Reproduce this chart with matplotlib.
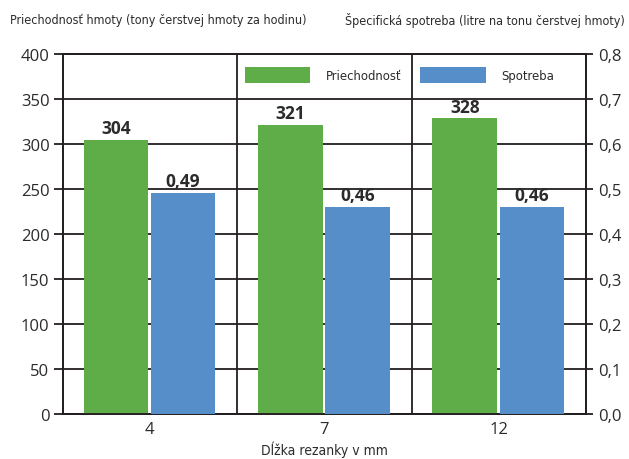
import matplotlib
matplotlib.use("Agg")
import matplotlib.pyplot as plt
from matplotlib import font_manager
import numpy as np

# data
categories = ["4", "7", "12"]
throughput = [304, 321, 328]          # tony čerstvej hmoty za hodinu
consumption = [0.49, 0.46, 0.46]      # litre na tonu čerstvej hmoty
left_ticks = [0, 50, 100, 150, 200, 250, 300, 350, 400]
right_ticks = [0.0, 0.1, 0.2, 0.3, 0.4, 0.5, 0.6, 0.7, 0.8]

GREEN = "#5fad48"
BLUE = "#558ec8"
INK = "#231f20"
TEXT = "#2b2b2b"

# condensed face for the small captions, if one is around
cond = font_manager.FontProperties(family="DejaVu Sans", stretch="condensed")
if "Condensed" in font_manager.findfont(cond, fallback_to_default=True):
    narrow = dict(family="DejaVu Sans", stretch="condensed")
else:
    narrow = dict(family="Liberation Sans")

plt.rcParams["font.family"] = ["Open Sans", "DejaVu Sans"]
plt.rcParams["text.color"] = TEXT

fig = plt.figure(figsize=(6.29, 4.60), dpi=100)
ax = fig.add_axes([0.0997, 0.0985, 0.8318, 0.7826])
ax2 = ax.twinx()

x = np.arange(len(categories))
w = 0.37

b1 = ax.bar(x - 0.195, throughput, width=w, color=GREEN, zorder=3,
            label="Priechodnosť")
b2 = ax2.bar(x + 0.19, consumption, width=w, color=BLUE, zorder=3,
             label="Spotreba")

ax.set_xlim(-0.5, 2.5)
ax.set_ylim(0, 400)
ax2.set_ylim(0, 0.8)

# grid and separators
for v in left_ticks:
    ax.axhline(v, color=INK, lw=1.3, zorder=1)
for v in [0.5, 1.5]:
    ax.axvline(v, color=INK, lw=1.3, zorder=1)

for a in (ax, ax2):
    for s in a.spines.values():
        s.set_color(INK)
        s.set_linewidth(1.3)

ax.set_yticks(left_ticks)
ax.set_yticklabels([str(v) for v in left_ticks])
ax2.set_yticks(right_ticks)
ax2.set_yticklabels([f"{v:.1f}".replace(".", ",") for v in right_ticks])
ax.tick_params(axis="y", length=6.5, width=1.3, color=INK, pad=3,
               labelsize=12, labelcolor=TEXT)
ax2.tick_params(axis="y", length=5, width=1.3, color=INK, pad=4,
                labelsize=12, labelcolor=TEXT)
ax.set_xticks(x)
ax.set_xticklabels(categories)
ax.tick_params(axis="x", length=0, pad=5, labelsize=12, labelcolor=TEXT)

ax.bar_label(b1, labels=[str(v) for v in throughput], padding=2,
             fontsize=12.5, fontweight="bold", color=TEXT)
ax2.bar_label(b2, labels=[f"{v:.2f}".replace(".", ",") for v in consumption],
              padding=2, fontsize=12.5, fontweight="bold", color=TEXT)

ax.set_xlabel("Dĺžka rezanky v mm", labelpad=3, color=TEXT, size=10,
              **narrow)

h1, l1 = ax.get_legend_handles_labels()
h2, l2 = ax2.get_legend_handles_labels()
ax2.legend(h1 + h2, l1 + l2, loc="center left", bbox_to_anchor=(0.326, 0.941),
           ncol=2, frameon=False, handlelength=5.0, handleheight=1.6,
           handletextpad=1.2, columnspacing=1.45,
           prop=font_manager.FontProperties(size=9.4, **narrow))

fig.text(0.016, 0.956, "Priechodnosť hmoty (tony čerstvej hmoty za hodinu)",
         ha="left", va="center", size=9.0, **narrow)
fig.text(0.994, 0.956, "Špecifická spotreba (litre na tonu čerstvej hmoty)",
         ha="right", va="center", size=9.0, **narrow)

fig.savefig("out.png", dpi=100)
